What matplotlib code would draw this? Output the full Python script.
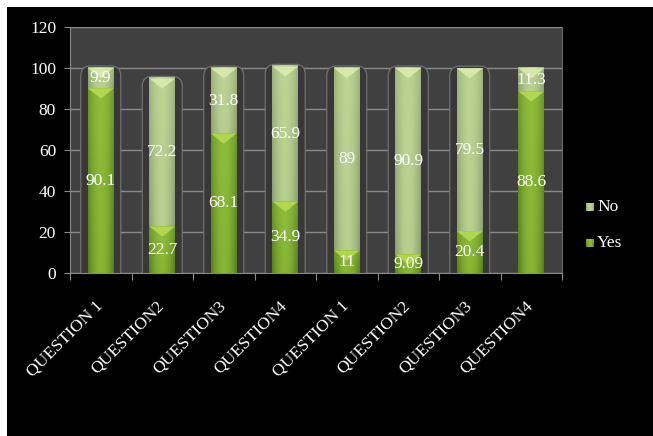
import numpy as np
import matplotlib
matplotlib.use("Agg")
import matplotlib.pyplot as plt
from matplotlib.patches import Rectangle, FancyBboxPatch, Polygon
from matplotlib.transforms import ScaledTranslation

# Survey answers per question (two groups of four questions)
questions = ["QUESTION 1", "QUESTION2", "QUESTION3", "QUESTION4",
             "QUESTION 1", "QUESTION2", "QUESTION3", "QUESTION4"]
yes_vals = [90.1, 22.7, 68.1, 34.9, 11, 9.09, 20.4, 88.6]
no_vals = [9.9, 72.2, 31.8, 65.9, 89, 90.9, 79.5, 11.3]
yes_labels = ["90.1", "22.7", "68.1", "34.9", "11", "9.09", "20.4", "88.6"]
no_labels = ["9.9", "72.2", "31.8", "65.9", "89", "90.9", "79.5", "11.3"]
glass_on = [True, True, True, True, True, True, True, False]

plt.rcParams["font.family"] = ["Liberation Serif", "DejaVu Serif"]

W, H = 653, 436
fig = plt.figure(figsize=(W / 100, H / 100), dpi=100)
fig.patch.set_facecolor("white")
# black slide background with a thin white margin top/left
fig.patches.append(Rectangle((7 / W, 0), 1 - 7 / W, 1 - 7 / H,
                             transform=fig.transFigure, facecolor="black",
                             edgecolor="none", zorder=-10))

ax = fig.add_axes([70 / W, 1 - 273 / H, (562 - 70) / W, (273 - 27) / H])
ax.set_facecolor("#404040")
ax.set_xlim(-0.5, len(questions) - 0.5)
ax.set_ylim(0, 120)
ax.set_yticks(range(0, 121, 20))
ax.yaxis.grid(True, color="#8a8a8a", linewidth=1.0)
ax.set_axisbelow(True)
ax.spines["top"].set_visible(False)
ax.spines["right"].set_color("#6a6a6a")
ax.spines["left"].set_color("#8a8a8a")
ax.spines["bottom"].set_color("#8a8a8a")
ax.tick_params(axis="y", colors="#8a8a8a", labelcolor="white", labelsize=12.5,
               length=4, pad=6)
ax.set_xticks(np.arange(len(questions) + 1) - 0.5, minor=False)
ax.set_xticklabels([])
ax.set_xticks(np.arange(len(questions)), minor=True)
ax.set_xticklabels(questions, minor=True, rotation=45, ha="right",
                   color="white", fontsize=12.5)
ax.tick_params(axis="x", which="major", colors="#8a8a8a", length=5)
ax.tick_params(axis="x", which="minor", length=0, pad=18)
shift = ScaledTranslation(5 / 100, 0, fig.dpi_scale_trans)
for lbl in ax.get_xticklabels(minor=True):
    lbl.set_transform(lbl.get_transform() + shift)

bar_w = 0.42
glass_w = 0.65


def shaded(c_edge, c_mid, c_top, n=64):
    # horizontal cylinder shading blended toward a lighter top
    xs = np.linspace(-1, 1, n)
    h = 1 - xs ** 2
    ys = np.linspace(0, 1, n)[:, None]
    edge = np.array(matplotlib.colors.to_rgb(c_edge))
    mid = np.array(matplotlib.colors.to_rgb(c_mid))
    top = np.array(matplotlib.colors.to_rgb(c_top))
    base = edge[None, :] + (mid - edge)[None, :] * h[:, None]
    img = base[None, :, :] * (1 - 0.35 * ys[..., None]) + top[None, None, :] * 0.35 * ys[..., None]
    return np.clip(img, 0, 1)


yes_img = shaded("#557d18", "#86b535", "#9cc848")
no_img = shaded("#8a9e6e", "#b7cf8f", "#c4dc9c")

for i, (y, n) in enumerate(zip(yes_vals, no_vals)):
    total = y + n
    if glass_on[i]:
        g = FancyBboxPatch((i - glass_w / 2, -6), glass_w, total + 7,
                           boxstyle="round,pad=0,rounding_size=0.16",
                           mutation_aspect=30, facecolor="#383838",
                           edgecolor="#707070", linewidth=0.9, zorder=1.5)
        ax.add_patch(g)
    for lo, hi, img, tip in [(0, y, yes_img, "#b8dc55"), (y, total, no_img, "#dcedb0")]:
        x0, x1 = i - bar_w / 2, i + bar_w / 2
        ax.imshow(img, extent=(x0, x1, lo, hi), origin="lower",
                  aspect="auto", zorder=2, interpolation="bilinear")
        dh = min(5.0, (hi - lo) * 0.6)
        ax.add_patch(Polygon([(x0, hi), (x1, hi), (i, hi - dh)],
                             closed=True, facecolor=tip, edgecolor="none",
                             alpha=0.85, zorder=2.5))
    ax.text(i, y / 2, yes_labels[i], ha="center", va="center",
            color="white", fontsize=12.5, zorder=4)
    ax.text(i, y + n / 2, no_labels[i], ha="center", va="center",
            color="white", fontsize=12.5, zorder=4)

ax.set_xlim(-0.5, len(questions) - 0.5)
ax.set_ylim(0, 120)

# legend
for yy, lab, img in [(1 - 207 / H, "No", no_img), (1 - 243 / H, "Yes", yes_img)]:
    sq = fig.add_axes([586 / W, yy - 4 / H, 8 / W, 8 / H])
    sq.imshow(img, aspect="auto", origin="lower")
    sq.axis("off")
    fig.text(597 / W, yy, lab, color="white", fontsize=12.5, va="center",
             ha="left")

fig.savefig("out.png", dpi=100, facecolor=fig.get_facecolor())
